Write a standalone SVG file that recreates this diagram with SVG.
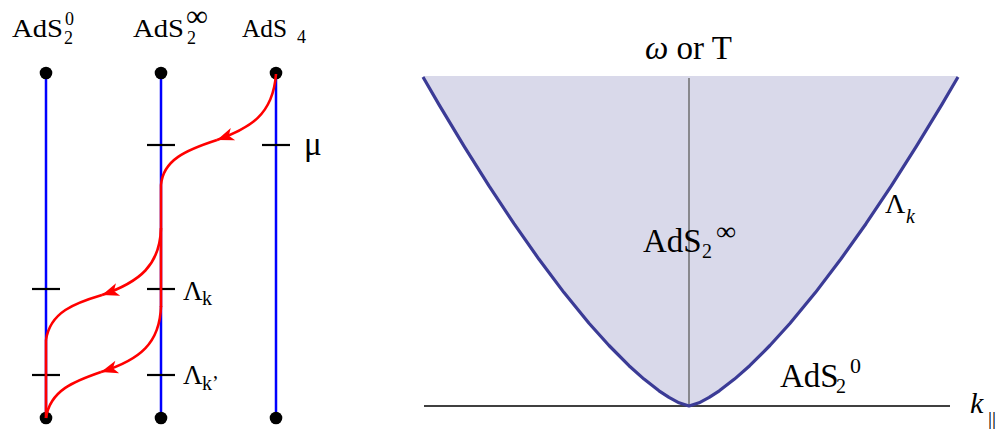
<svg xmlns="http://www.w3.org/2000/svg" width="1000" height="429" viewBox="0 0 1000 429" font-family="'Liberation Serif', 'DejaVu Serif', serif">
<style>
  text { font-family: "Liberation Serif", "DejaVu Serif", serif; fill: #000; }
  .col { stroke: #0000ff; stroke-width: 2.5; fill: none; }
  .tick { stroke: #000; stroke-width: 2.2; }
  .dot { fill: #000; }
  .flow { stroke: #ff0000; stroke-width: 2.6; fill: none; }
  .curve { stroke: #3b3b96; stroke-width: 3.2; fill: none; stroke-linejoin: round; }
</style>
<defs>
  <marker id="arr" markerUnits="userSpaceOnUse" markerWidth="20" markerHeight="16" viewBox="-18 -8 20 16" refX="0" refY="0" orient="auto">
    <path d="M0,0 L-17,-6.5 L-12.5,0 L-17,6.5 Z" fill="#ff0000"/>
  </marker>
</defs>
<rect width="1000" height="429" fill="#fff"/>

<!-- Left panel columns -->
<g id="col-ads2-0">
  <line class="col" x1="46" y1="73" x2="46" y2="418"/>
  <line class="tick" x1="32" y1="289" x2="60" y2="289"/>
  <line class="tick" x1="32" y1="375" x2="60" y2="375"/>
  <circle class="dot" cx="46" cy="73" r="6.3"/>
  <circle class="dot" cx="46" cy="418" r="6.3"/>
  <text x="12" y="37" font-size="25" textLength="51" lengthAdjust="spacingAndGlyphs">AdS</text>
  <text x="64" y="44" font-size="18">2</text>
  <text x="65" y="25" font-size="18">0</text>
</g>
<g id="col-ads2-inf">
  <line class="col" x1="161" y1="73" x2="161" y2="418"/>
  <line class="tick" x1="147" y1="145" x2="175" y2="145"/>
  <line class="tick" x1="147" y1="289" x2="175" y2="289"/>
  <line class="tick" x1="147" y1="375" x2="175" y2="375"/>
  <circle class="dot" cx="161" cy="73" r="6.3"/>
  <circle class="dot" cx="161" cy="418" r="6.3"/>
  <text x="133" y="37" font-size="25" textLength="51" lengthAdjust="spacingAndGlyphs">AdS</text>
  <text x="187" y="44" font-size="18">2</text>
  <text x="186" y="26" font-size="30" textLength="22" lengthAdjust="spacingAndGlyphs">∞</text>
  <text x="183" y="300" font-size="27">Λ</text>
  <text x="202" y="305" font-size="20">k</text>
  <text x="183" y="384" font-size="27">Λ</text>
  <text x="202" y="390" font-size="20">k’</text>
</g>
<g id="col-ads4">
  <line class="col" x1="276" y1="73" x2="276" y2="418"/>
  <line class="tick" x1="262" y1="145" x2="290" y2="145"/>
  <circle class="dot" cx="276" cy="73" r="6.3"/>
  <circle class="dot" cx="276" cy="418" r="6.3"/>
  <text x="242" y="37" font-size="25" textLength="45" lengthAdjust="spacingAndGlyphs">AdS</text>
  <text x="297" y="43" font-size="18">4</text>
  <text x="304" y="155" font-size="33">μ</text>
</g>

<!-- Connectors (RG flows) -->
<g id="connectors">
  <path class="flow" d="M276,74 C273,115 250,128 217,140" marker-end="url(#arr)"/>
  <path class="flow" d="M217,140 C186,150 163,160 161,185"/>
  <path class="flow" d="M161,185 L161,307"/>
  <path class="flow" d="M161,228 C160,265 140,282 102,295" marker-end="url(#arr)"/>
  <path class="flow" d="M102,295 C75,303 50,312 46,340"/>
  <path class="flow" d="M46,340 L46,418"/>
  <path class="flow" d="M161,306 C160,343 140,360 101,372" marker-end="url(#arr)"/>
  <path class="flow" d="M101,372 C75,381 50,390 46,418"/>
</g>

<!-- Right panel: phase diagram -->
<g id="phase-plot">
  <path fill="#d9d9ea" stroke="none" d="M423,76 L423,77 L439,104.6 L464,146.1 L489,185.9 L514,223.7 L539,259.3 L564,292.6 L589,323.2 L609,345.5 L629,365.7 L644,379.1 L659,390.8 L669,397.45 L679,402.8 L689,406 L699.1,402.8 L709.2,397.45 L719.3,390.8 L734.5,379.1 L749.7,365.7 L769.9,345.5 L790.1,323.2 L815.4,292.6 L840.7,259.3 L866,223.7 L891.3,185.9 L916.5,146.1 L941.8,104.6 L958,77 L958,76 Z"/>
  <line x1="689" y1="78" x2="689" y2="406" stroke="#666" stroke-width="1.4"/>
  <line x1="424" y1="406" x2="950" y2="406" stroke="#000" stroke-width="1.4"/>
  <path class="curve" d="M423,77 L439,104.6 L464,146.1 L489,185.9 L514,223.7 L539,259.3 L564,292.6 L589,323.2 L609,345.5 L629,365.7 L644,379.1 L659,390.8 L669,397.45 L679,402.8 L689,406 L699.1,402.8 L709.2,397.45 L719.3,390.8 L734.5,379.1 L749.7,365.7 L769.9,345.5 L790.1,323.2 L815.4,292.6 L840.7,259.3 L866,223.7 L891.3,185.9 L916.5,146.1 L941.8,104.6 L958,77"/>
  <text x="645" y="59" font-size="33"><tspan font-style="italic">ω</tspan> or T</text>
  <text x="643" y="252" font-size="33">AdS</text>
  <text x="702" y="258" font-size="20">2</text>
  <text x="716" y="240" font-size="26" textLength="20" lengthAdjust="spacingAndGlyphs">∞</text>
  <text x="885" y="213" font-size="28">Λ</text>
  <text x="906" y="223" font-size="20" font-style="italic">k</text>
  <text x="780" y="387" font-size="33">AdS</text>
  <text x="836" y="393" font-size="20">2</text>
  <text x="850" y="373" font-size="22">0</text>
  <text x="970" y="413" font-size="30" font-style="italic">k</text>
  <text x="988" y="426" font-size="20">||</text>
</g>
</svg>
